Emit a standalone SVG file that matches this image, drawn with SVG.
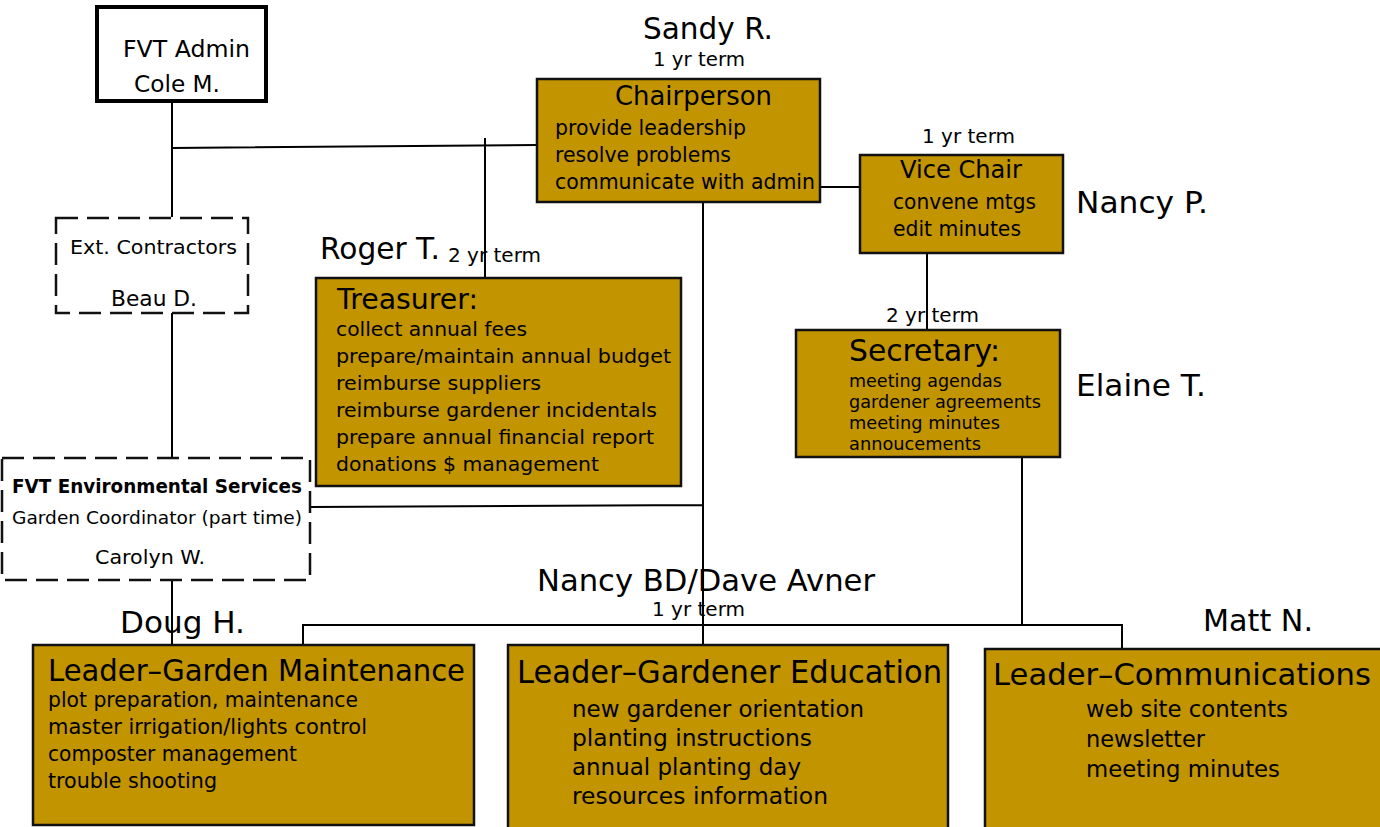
<svg xmlns="http://www.w3.org/2000/svg" width="1380" height="827" viewBox="0 0 1380 827">
<style>
text{font-family:"DejaVu Sans","Liberation Sans",sans-serif;fill:#000}
.box{fill:#C29400;stroke:#111;stroke-width:2.5}
.dash{fill:#fff;stroke:#111;stroke-width:2.5;stroke-dasharray:22 9}
.ln{stroke:#000;stroke-width:2;fill:none}
.name{font-size:31px}
.term{font-size:19px}
</style>
<rect width="1380" height="827" fill="#fff"/>
<g id="connectors">
<path class="ln" d="M172 103V217M172 148L537 145M485 138V278M172 313V457M172 580V645M310 507L703 505M703 200V645M820 187H860M927 253V330M1022 457V625M303 645V625H1122V649"/>
</g>
<g id="admin">
<rect x="97" y="7" width="169" height="94" fill="#fff" stroke="#000" stroke-width="4"/>
<text x="123" y="57" font-size="23" textLength="127" lengthAdjust="spacingAndGlyphs">FVT Admin</text>
<text x="134" y="92" font-size="23" textLength="86" lengthAdjust="spacingAndGlyphs">Cole M.</text>
</g>
<g id="contractors">
<rect class="dash" x="56" y="218" width="192" height="95"/>
<text x="70" y="254" font-size="19" textLength="167" lengthAdjust="spacingAndGlyphs">Ext. Contractors</text>
<text x="111" y="306" font-size="21" textLength="86" lengthAdjust="spacingAndGlyphs">Beau D.</text>
</g>
<g id="envservices">
<rect class="dash" x="2" y="458" width="308" height="122"/>
<text x="12" y="493" font-size="19" font-weight="bold" textLength="290" lengthAdjust="spacingAndGlyphs">FVT Environmental Services</text>
<text x="12" y="524" font-size="18" textLength="290" lengthAdjust="spacingAndGlyphs">Garden Coordinator (part time)</text>
<text x="95" y="564" font-size="19" textLength="110" lengthAdjust="spacingAndGlyphs">Carolyn W.</text>
</g>
<g id="chair">
<text class="name" x="643" y="39" textLength="130" lengthAdjust="spacingAndGlyphs">Sandy R.</text>
<text class="term" x="653" y="66" textLength="92" lengthAdjust="spacingAndGlyphs">1 yr term</text>
<rect class="box" x="537" y="79" width="283" height="123"/>
<text x="615" y="105" font-size="26" textLength="157" lengthAdjust="spacingAndGlyphs">Chairperson</text>
<text x="555" y="135" font-size="22" textLength="191" lengthAdjust="spacingAndGlyphs">provide leadership</text>
<text x="555" y="162" font-size="22" textLength="176" lengthAdjust="spacingAndGlyphs">resolve problems</text>
<text x="555" y="189" font-size="22" textLength="260" lengthAdjust="spacingAndGlyphs">communicate with admin</text>
</g>
<g id="vicechair">
<text class="term" x="922" y="143" textLength="93" lengthAdjust="spacingAndGlyphs">1 yr term</text>
<rect class="box" x="860" y="155" width="203" height="98"/>
<text x="900" y="178" font-size="25" textLength="122" lengthAdjust="spacingAndGlyphs">Vice Chair</text>
<text x="893" y="209" font-size="21" textLength="143" lengthAdjust="spacingAndGlyphs">convene mtgs</text>
<text x="893" y="236" font-size="21" textLength="128" lengthAdjust="spacingAndGlyphs">edit minutes</text>
<text class="name" x="1076" y="213" textLength="132" lengthAdjust="spacingAndGlyphs">Nancy P.</text>
</g>
<g id="secretary">
<text class="term" x="886" y="322" textLength="93" lengthAdjust="spacingAndGlyphs">2 yr term</text>
<rect class="box" x="796" y="330" width="264" height="127"/>
<text x="849" y="361" font-size="31" textLength="151" lengthAdjust="spacingAndGlyphs">Secretary:</text>
<text x="849" y="387" font-size="18" textLength="153" lengthAdjust="spacingAndGlyphs">meeting agendas</text>
<text x="849" y="408" font-size="18" textLength="192" lengthAdjust="spacingAndGlyphs">gardener agreements</text>
<text x="849" y="429" font-size="18" textLength="151" lengthAdjust="spacingAndGlyphs">meeting minutes</text>
<text x="849" y="450" font-size="18" textLength="132" lengthAdjust="spacingAndGlyphs">annoucements</text>
<text class="name" x="1076" y="396" textLength="130" lengthAdjust="spacingAndGlyphs">Elaine T.</text>
</g>
<g id="treasurer">
<text class="name" x="320" y="259" textLength="120" lengthAdjust="spacingAndGlyphs">Roger T.</text>
<text class="term" x="448" y="262" textLength="93" lengthAdjust="spacingAndGlyphs">2 yr term</text>
<rect class="box" x="316" y="278" width="365" height="208"/>
<text x="337" y="309" font-size="28" textLength="141" lengthAdjust="spacingAndGlyphs">Treasurer:</text>
<text x="336" y="336" font-size="20" textLength="191" lengthAdjust="spacingAndGlyphs">collect annual fees</text>
<text x="336" y="363" font-size="20" textLength="335" lengthAdjust="spacingAndGlyphs">prepare/maintain annual budget</text>
<text x="336" y="390" font-size="20" textLength="205" lengthAdjust="spacingAndGlyphs">reimburse suppliers</text>
<text x="336" y="417" font-size="20" textLength="321" lengthAdjust="spacingAndGlyphs">reimburse gardener incidentals</text>
<text x="336" y="444" font-size="20" textLength="318" lengthAdjust="spacingAndGlyphs">prepare annual financial report</text>
<text x="336" y="471" font-size="20" textLength="263" lengthAdjust="spacingAndGlyphs">donations $ management</text>
</g>
<g id="maintenance">
<text class="name" x="120" y="633" textLength="125" lengthAdjust="spacingAndGlyphs">Doug H.</text>
<rect class="box" x="33" y="645" width="441" height="180"/>
<text x="48" y="681" font-size="31" textLength="417" lengthAdjust="spacingAndGlyphs">Leader–Garden Maintenance</text>
<text x="48" y="707" font-size="21" textLength="310" lengthAdjust="spacingAndGlyphs">plot preparation, maintenance</text>
<text x="48" y="734" font-size="21" textLength="319" lengthAdjust="spacingAndGlyphs">master irrigation/lights control</text>
<text x="48" y="761" font-size="21" textLength="249" lengthAdjust="spacingAndGlyphs">composter management</text>
<text x="48" y="788" font-size="21" textLength="169" lengthAdjust="spacingAndGlyphs">trouble shooting</text>
</g>
<g id="education">
<text x="537" y="591" font-size="31" textLength="338" lengthAdjust="spacingAndGlyphs">Nancy BD/Dave Avner</text>
<text class="term" x="652" y="616" textLength="93" lengthAdjust="spacingAndGlyphs">1 yr term</text>
<rect class="box" x="508" y="645" width="440" height="184"/>
<text x="517" y="683" font-size="32" textLength="425" lengthAdjust="spacingAndGlyphs">Leader–Gardener Education</text>
<text x="572" y="717" font-size="23" textLength="292" lengthAdjust="spacingAndGlyphs">new gardener orientation</text>
<text x="572" y="746" font-size="23" textLength="240" lengthAdjust="spacingAndGlyphs">planting instructions</text>
<text x="572" y="775" font-size="23" textLength="229" lengthAdjust="spacingAndGlyphs">annual planting day</text>
<text x="572" y="804" font-size="23" textLength="256" lengthAdjust="spacingAndGlyphs">resources information</text>
</g>
<g id="communications">
<text class="name" x="1203" y="631" textLength="110" lengthAdjust="spacingAndGlyphs">Matt N.</text>
<rect class="box" x="985" y="649" width="400" height="182"/>
<text x="993" y="685" font-size="30" textLength="378" lengthAdjust="spacingAndGlyphs">Leader–Communications</text>
<text x="1086" y="717" font-size="23" textLength="202" lengthAdjust="spacingAndGlyphs">web site contents</text>
<text x="1086" y="747" font-size="23" textLength="119" lengthAdjust="spacingAndGlyphs">newsletter</text>
<text x="1086" y="777" font-size="23" textLength="194" lengthAdjust="spacingAndGlyphs">meeting minutes</text>
</g>
</svg>
